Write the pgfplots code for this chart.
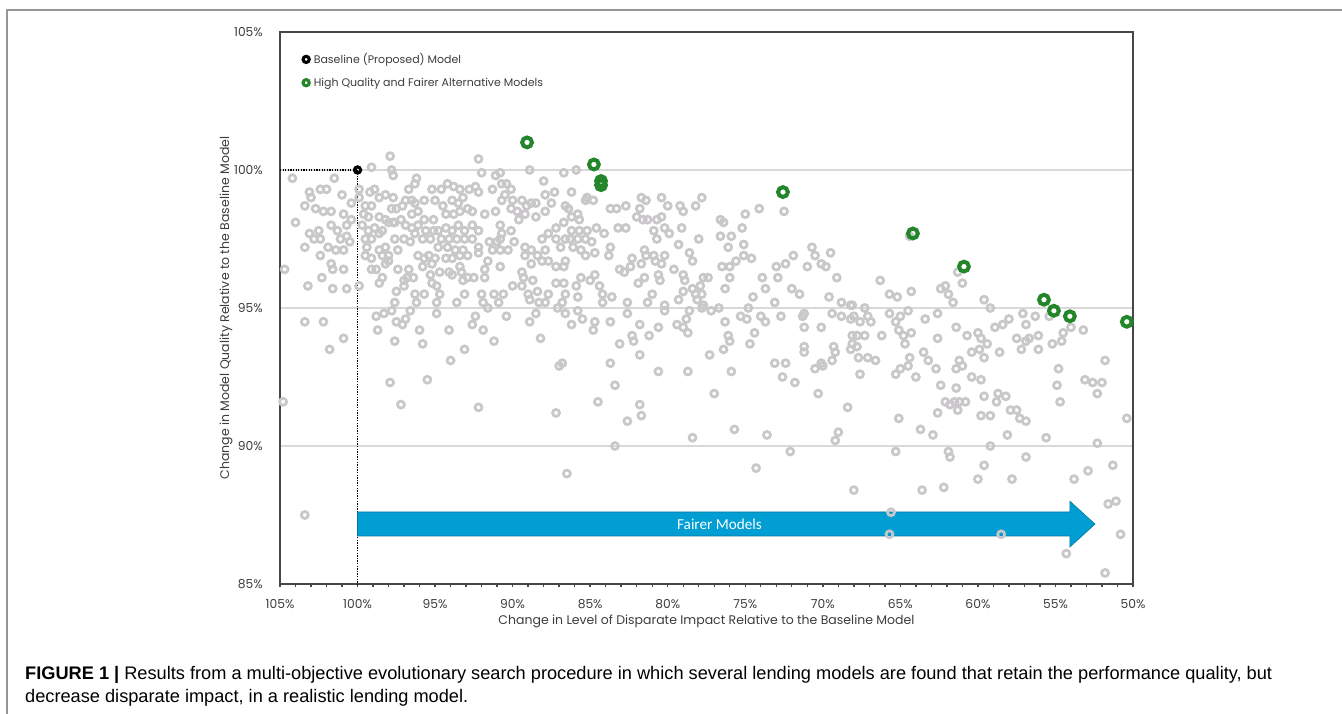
\documentclass[border=0pt]{standalone}
\usepackage{pgfplots}
\usepackage{pgfplotstable}
\pgfplotsset{compat=1.18}
\usepackage{fontspec}
\setmainfont{Poppins}
\newfontfamily\capfont{Liberation Sans}
\newfontfamily\arrowfont{Carlito}

\definecolor{ptgray}{RGB}{201,199,201}
\definecolor{fairgreen}{RGB}{36,134,42}
\definecolor{arrowblue}{RGB}{0,158,211}
\definecolor{txtgray}{RGB}{60,60,60}
\definecolor{gridgray}{RGB}{217,217,217}
\definecolor{framegray}{RGB}{150,150,150}

% candidate models: disparate impact (%) vs. model quality (%), both relative to the baseline
\pgfplotstableread{
x y
97.9 100.5
99.1 100.1
97.8 100.0
97.7 99.8
92.2 100.4
92.0 99.9
91.1 99.8
90.8 99.9
88.9 100.0
86.7 99.9
88.0 99.6
104.2 99.7
101.5 99.7
96.2 99.7
96.3 99.5
96.7 99.3
103.1 99.2
103.0 99.0
102.4 99.3
102.0 99.3
101.0 99.1
103.4 98.7
102.7 98.6
102.2 98.5
101.7 98.5
100.9 98.4
100.4 98.8
99.9 99.3
99.9 99.0
99.2 99.2
98.9 99.3
98.6 99.0
98.2 99.1
97.7 99.0
97.8 98.6
97.5 98.6
97.1 98.7
96.9 98.9
96.5 98.9
96.3 98.8
99.5 98.7
99.1 98.7
99.6 98.4
99.3 98.3
98.6 98.3
98.2 98.2
97.7 98.1
97.2 98.2
96.5 98.4
96.1 98.5
95.7 98.9
95.2 99.3
95.0 98.9
94.6 99.3
94.2 99.5
93.8 99.4
93.4 99.3
92.8 99.3
92.4 99.4
92.2 99.2
94.5 98.7
93.9 98.9
93.5 98.8
93.2 99.0
95.7 98.2
95.1 98.2
94.3 98.4
93.8 98.4
93.4 98.5
92.9 98.6
92.6 98.5
91.8 98.4
91.1 98.5
91.3 99.3
90.7 99.5
90.4 99.5
90.1 99.3
90.5 99.1
90.7 98.9
90.0 98.9
90.1 98.6
89.7 98.5
89.4 98.9
89.1 98.7
88.8 98.8
88.5 98.8
89.6 98.2
89.2 98.4
88.5 98.3
87.9 98.5
87.9 99.1
87.3 99.2
87.5 98.8
86.7 98.1
86.6 98.7
104.0 98.1
101.7 98.0
101.3 97.8
100.7 98.0
100.4 98.2
103.1 97.7
102.8 97.5
102.5 97.8
102.4 97.5
103.4 97.2
101.9 97.2
102.4 96.9
101.4 97.1
100.9 97.1
101.1 97.5
100.7 97.6
100.5 97.4
99.7 98.0
99.3 97.8
98.9 97.9
98.4 97.8
98.0 98.1
97.6 98.1
99.5 97.5
99.1 97.5
98.6 97.7
98.2 97.2
98.6 97.1
99.4 97.2
99.5 96.9
99.1 96.8
98.4 96.9
98.0 96.9
97.6 97.5
97.0 97.5
97.4 97.1
96.6 97.4
96.3 97.7
96.9 98.0
96.5 97.9
96.1 98.0
95.6 97.8
95.1 97.8
95.8 97.5
95.3 97.5
94.8 97.8
94.3 97.9
93.9 97.8
93.5 98.0
93.1 97.8
92.6 98.0
92.2 97.8
94.6 97.5
94.1 97.5
93.6 97.5
93.1 97.5
92.6 97.5
94.8 97.2
94.2 97.2
93.7 97.1
93.2 97.1
92.2 97.2
95.4 96.9
96.1 96.9
95.7 96.8
95.0 96.8
94.3 96.8
93.9 96.8
93.4 96.9
92.9 96.9
92.2 97.0
91.5 97.4
91.0 97.4
90.8 97.5
91.3 97.1
90.8 97.1
90.3 97.1
90.8 98.0
90.1 97.8
90.7 97.7
89.9 97.4
89.2 97.2
88.8 97.1
88.4 96.9
88.1 97.5
87.7 97.7
87.2 97.9
87.9 97.1
87.2 97.5
86.9 97.2
86.6 97.5
89.2 96.9
88.8 96.6
88.1 96.7
87.7 96.7
87.2 96.5
86.7 96.5
86.6 96.7
104.7 96.4
101.7 96.6
101.6 96.4
100.9 96.4
103.2 95.8
102.3 96.1
101.6 95.7
100.7 95.7
99.9 95.8
99.1 96.4
98.8 96.4
98.2 96.6
98.0 96.7
97.4 96.4
96.7 96.4
98.6 95.9
98.4 96.1
97.0 96.0
96.8 96.1
96.4 96.1
97.5 95.6
97.0 95.8
96.3 95.5
95.7 95.5
95.8 96.5
95.2 96.6
94.7 96.3
95.3 96.2
95.2 95.9
94.9 95.8
94.7 95.5
94.1 96.3
93.9 96.2
93.4 96.5
93.3 96.3
92.9 96.1
92.5 96.1
93.2 96.0
93.1 95.5
93.6 95.2
94.9 95.2
96.2 95.2
96.6 94.9
97.6 95.2
97.8 94.9
98.3 94.8
98.8 94.7
98.7 94.2
94.9 94.8
94.1 94.2
96.9 94.6
97.5 94.5
97.1 94.4
96.0 94.2
95.8 93.7
103.4 94.5
102.2 94.5
100.9 93.9
101.8 93.5
97.6 93.8
94.0 93.1
93.1 93.5
92.4 94.7
92.6 94.4
91.9 94.2
91.2 93.8
92.0 95.5
91.9 95.2
91.6 95.0
91.2 95.5
90.9 95.2
90.6 95.5
91.8 96.4
91.6 96.7
90.8 96.5
91.8 96.1
90.0 95.8
89.4 96.3
89.3 96.1
89.4 95.8
89.0 95.5
88.9 95.3
88.7 96.0
88.4 95.6
88.3 95.2
87.9 95.2
87.7 95.5
88.5 94.8
88.9 94.5
90.4 94.7
88.2 93.9
87.2 95.9
86.7 95.9
86.6 95.5
87.1 95.0
86.8 95.2
86.6 94.8
86.8 93.0
85.9 100.0
86.2 99.2
86.4 98.6
85.2 99.0
84.8 98.9
85.3 98.9
85.8 98.4
85.7 98.2
86.2 98.3
86.2 97.8
85.7 97.8
85.2 97.8
86.3 97.5
85.8 97.5
85.3 97.5
84.9 97.4
86.1 97.2
85.6 97.1
85.3 96.9
84.7 97.0
84.6 97.9
84.1 97.7
83.7 98.6
83.3 98.6
82.7 98.7
83.2 97.9
82.7 97.9
83.7 97.2
83.8 96.9
81.7 99.0
81.4 98.9
81.8 98.6
82.0 98.3
81.6 98.2
81.3 98.2
80.7 98.2
80.4 98.3
80.4 99.0
80.0 98.7
80.9 97.8
80.2 97.9
79.9 97.7
80.7 97.5
79.2 98.7
79.0 98.5
78.2 98.7
77.8 99.0
79.1 97.9
79.3 97.3
78.6 97.0
78.0 97.5
81.5 97.1
81.4 96.9
80.9 96.9
80.8 96.7
80.2 96.9
82.3 96.8
83.1 96.4
82.8 96.3
82.4 96.5
81.7 96.6
80.4 96.6
78.4 96.7
76.6 98.2
76.4 98.1
76.6 97.6
76.1 97.2
75.9 97.6
75.2 97.9
75.0 98.4
74.1 98.6
72.5 98.5
75.1 97.3
75.6 96.7
75.1 96.9
74.6 96.8
76.5 96.5
76.0 96.5
76.0 96.1
76.3 95.7
77.7 96.1
77.4 96.1
79.6 96.4
79.0 96.2
78.9 96.0
80.6 96.2
80.5 96.0
81.5 96.1
81.9 95.9
85.9 95.8
85.6 96.1
85.0 96.0
84.7 96.2
85.8 95.4
84.4 95.8
84.2 95.5
83.6 95.4
84.2 95.2
82.6 95.2
82.6 94.8
81.0 95.5
81.3 95.2
80.2 95.1
80.2 94.9
79.3 95.3
79.0 95.6
78.4 95.7
77.9 95.8
78.2 95.5
77.8 95.5
78.1 95.3
77.7 95.1
77.8 95.0
78.6 94.9
77.2 94.9
76.7 95.0
76.3 94.5
75.3 94.7
74.9 94.6
74.8 95.0
74.5 95.4
73.9 96.1
73.7 95.7
73.1 95.2
72.7 94.7
73.0 96.5
72.9 96.1
72.4 96.6
71.9 96.9
70.7 97.2
70.5 96.9
71.0 96.5
70.1 96.6
69.8 96.5
69.5 97.0
69.1 96.1
72.0 95.7
71.5 95.5
69.6 95.4
68.8 95.2
68.2 95.1
69.4 94.8
68.8 94.7
68.2 94.6
71.2 94.8
71.3 94.7
71.2 94.3
70.1 94.3
74.0 94.7
73.7 94.5
74.4 94.1
74.7 93.7
76.1 94.0
76.0 93.8
76.4 93.5
77.3 93.3
78.8 94.6
79.0 94.3
78.7 94.1
79.4 94.4
80.6 94.3
81.2 94.0
81.8 94.4
82.3 94.0
82.2 93.8
83.1 93.7
81.8 93.3
83.7 94.5
84.7 94.5
84.8 94.2
85.8 94.9
85.5 94.6
86.2 94.4
83.7 93.0
71.2 93.6
71.2 93.4
69.3 93.6
69.2 93.4
68.1 94.0
68.2 93.5
73.1 93.0
72.4 93.0
70.1 93.0
69.4 93.1
66.3 96.0
65.7 95.5
65.2 95.4
64.3 95.6
64.4 97.6
61.0 95.9
61.3 96.3
62.4 95.7
62.1 95.8
61.9 95.5
61.6 95.2
59.6 95.3
59.2 95.0
68.1 95.1
67.3 95.0
68.0 94.7
67.6 94.5
67.1 94.7
66.9 94.5
67.8 94.0
67.3 94.0
68.1 93.7
67.8 93.6
67.7 93.2
67.1 93.2
66.6 93.1
66.2 94.0
65.7 94.8
65.0 94.7
64.5 94.9
65.3 94.5
65.1 94.2
64.8 94.0
64.3 94.1
64.7 93.7
64.4 93.2
63.4 94.6
62.6 94.8
62.6 93.9
63.5 93.4
63.2 93.1
61.4 94.3
60.7 94.0
61.2 93.1
60.0 94.1
59.8 93.9
59.4 93.7
59.9 93.5
60.4 93.4
59.6 93.2
58.9 94.3
58.4 94.4
58.0 94.6
58.6 93.4
57.5 93.9
57.2 93.5
56.7 93.9
56.9 93.8
57.1 94.8
56.9 94.4
56.3 94.7
56.1 94.0
56.1 93.5
55.4 94.7
55.2 93.7
54.5 94.1
54.6 93.8
54.0 94.3
53.2 94.2
51.8 93.1
104.8 91.6
97.9 92.3
95.5 92.4
97.2 91.5
92.2 91.4
87.0 92.9
87.2 91.2
86.5 89.0
103.4 87.5
83.4 92.2
84.5 91.6
82.6 90.9
81.8 91.5
81.7 91.1
83.4 90.0
80.6 92.7
78.7 92.7
75.9 92.7
77.0 91.9
78.4 90.3
75.7 90.6
73.6 90.4
74.3 89.2
72.6 92.5
71.8 92.3
72.1 89.8
70.5 92.8
70.0 92.9
70.3 91.9
68.4 91.4
69.0 90.5
69.2 90.2
68.0 88.4
67.6 92.6
65.3 92.6
65.0 92.8
64.5 92.9
64.0 92.5
62.7 92.8
61.4 92.8
61.0 92.9
62.4 92.2
61.4 92.1
60.4 92.5
59.8 92.4
59.6 91.8
58.8 91.6
58.7 91.9
58.2 91.8
62.1 91.6
61.8 91.5
61.5 91.6
61.2 91.6
60.8 91.6
61.3 91.3
62.6 91.2
65.1 91.0
59.8 91.1
59.2 91.1
57.9 91.3
57.5 91.3
57.3 91.0
56.9 90.9
63.7 90.6
62.9 90.4
58.1 90.4
55.6 90.3
54.8 92.8
54.9 92.2
54.7 91.6
53.1 92.4
52.6 92.3
52.0 92.3
52.3 91.9
50.4 91.0
52.3 90.1
59.2 90.0
65.3 89.8
61.9 89.8
61.8 89.6
56.9 89.6
59.6 89.3
60.0 88.8
57.8 88.8
53.8 88.8
52.9 89.1
51.3 89.3
63.6 88.4
62.2 88.5
51.6 87.9
51.1 88.0
50.8 86.8
54.3 86.1
51.8 85.4
65.6 87.6
65.7 86.8
58.5 86.8
}\othermodels

% the fairer alternatives that keep the quality of the baseline
\pgfplotstableread{
x y
89.07 101.0
84.76 100.2
84.30 99.6
84.30 99.45
72.57 99.2
64.19 97.7
60.90 96.5
55.74 95.3
55.10 94.9
54.07 94.7
50.40 94.5
}\fairmodels

\begin{document}
\begin{tikzpicture}[x=1pt,y=1pt]
\begin{axis}[
  at={(280pt,130pt)}, anchor=south west,
  scale only axis, width=853pt, height=552pt,
  xmin=50, xmax=105, ymin=85, ymax=105,
  x dir=reverse,
  axis line style={draw=black!72, line width=1.8pt},
  /pgf/number format/assume math mode=true,
  xtick={50,55,...,105}, minor x tick num=4,
  xtick pos=lower, tick align=outside,
  major tick length=3pt, minor tick length=3pt,
  xtick style={draw=black!72, line width=1.4pt},
  minor x tick style={draw=black!72, line width=1.4pt},
  ytick={85,90,95,100,105}, ytick style={draw=none},
  ymajorgrids, major grid style={draw=gridgray, line width=1.3pt},
  xticklabel={\pgfmathprintnumber[fixed,precision=0]{\tick}\%},
  yticklabel={\pgfmathprintnumber[fixed,precision=0]{\tick}\%},
  ticklabel style={font=\fontsize{12.3}{14}\selectfont, text=txtgray},
  xticklabel style={anchor=center, yshift=-17pt},
  yticklabel style={anchor=east, inner sep=0pt, xshift=-14pt},
  xlabel={Change in Level of Disparate Impact Relative to the Baseline Model},
  ylabel={Change in Model Quality Relative to the Baseline Model},
  label style={font=\fontsize{12.5}{14}\selectfont, text=txtgray},
  xlabel style={at={(axis description cs:0.5,-0.067)}, anchor=center},
  ylabel style={at={(axis description cs:-0.0633,0.5)}, anchor=center},
  legend style={at={(0.025,0.965)}, anchor=north west, draw=none, fill=none,
    font=\fontsize{11}{13}\selectfont, text=txtgray, row sep=8.5pt,
    inner sep=0pt, /tikz/every odd column/.style={column sep=1pt}},
  legend cell align=left,
  clip=false,
]
% every candidate model
\addplot[only marks, mark=o, mark size=3.5pt, draw=ptgray, line width=2.7pt, forget plot]
  table[x=x, y=y] {\othermodels};
% reference lines through the baseline
\draw[black, line width=1.3pt, dash pattern=on 1.3pt off 1.3pt]
  (axis cs:105,100) -- (axis cs:100,100) -- (axis cs:100,85);
% direction of fairer models
\filldraw[fill=arrowblue, draw=arrowblue!75!black, line width=0.6pt]
  (axis cs:100,87.61) -- (axis cs:54.07,87.61) -- (axis cs:54.07,88.0)
  -- (axis cs:52.45,87.17) -- (axis cs:54.07,86.34) -- (axis cs:54.07,86.74)
  -- (axis cs:100,86.74) -- cycle;
\node[text=white, font=\arrowfont\fontsize{15.2}{17}\selectfont, anchor=center]
  at (axis cs:76.66,87.17) {Fairer Models};
% baseline model
\addplot[only marks, mark=o, mark size=3.1pt, draw=black, line width=3.1pt,
  legend image code/.code={\draw[black, line width=3.1pt] (0pt,0pt) circle (3.1pt);}]
  coordinates {(100,100)};
\addlegendentry{Baseline (Proposed) Model}
% high quality and fairer alternatives
\addplot[only marks, mark=o, mark size=4.9pt, draw=fairgreen, line width=4.0pt,
  legend image code/.code={\draw[fairgreen, line width=3.1pt] (0pt,0pt) circle (3.1pt);}]
  table[x=x, y=y] {\fairmodels};
\addlegendentry{High Quality and Fairer Alternative Models}
\end{axis}
% page frame
\draw[framegray, line width=1.3pt] (1342pt,704pt) -- (7pt,704pt) -- (7pt,0pt);
% caption
\node[anchor=base west, inner sep=0pt, font=\capfont\fontsize{18.2}{22}\selectfont]
  at (25pt,34pt) {{\bfseries FIGURE 1 |} Results from a multi-objective evolutionary search procedure in which several lending models are found that retain the performance quality, but};
\node[anchor=base west, inner sep=0pt, font=\capfont\fontsize{18.2}{22}\selectfont]
  at (25pt,11pt) {decrease disparate impact, in a realistic lending model.};
\pgfresetboundingbox
\path[use as bounding box] (0pt,0pt) rectangle (1342pt,714pt);
\end{tikzpicture}
\end{document}
